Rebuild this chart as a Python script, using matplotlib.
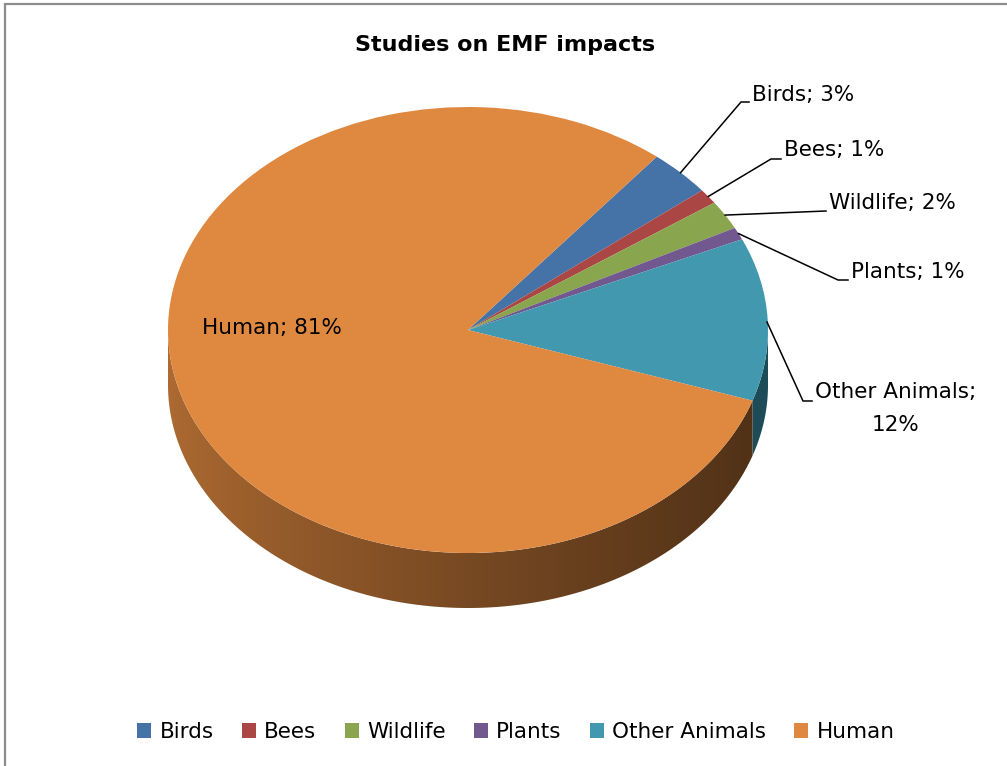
import numpy as np
import matplotlib.pyplot as plt
from matplotlib.patches import Polygon, Rectangle
from matplotlib.colors import to_rgb

plt.rcParams['font.family'] = ['DejaVu Sans']

# data
labels = ['Birds', 'Bees', 'Wildlife', 'Plants', 'Other Animals', 'Human']
shares = [3.4, 1.1, 2.1, 0.9, 11.8, 80.7]
colors = ['#4572A7', '#AA4643', '#89A54E', '#71588F', '#4198AF', '#DE8840']
side_colors = {'Other Animals': '#1d4b58'}

W, H = 1007, 766
CX, CY, RX, RY = 468, 330, 300, 223   # pie centre / radii in pixels
DEPTH = 55 / RY
START = 51

def px(x, y):
    # image pixel -> data coords (pie unit ellipse)
    return (x - CX) / RX, (CY - y) / RY

fig = plt.figure(figsize=(W / 100, H / 100), dpi=100)
ax = fig.add_axes([0, 0, 1, 1])

# top face
wedges, _ = ax.pie(shares, colors=colors, startangle=START, counterclock=False,
                   wedgeprops=dict(linewidth=0.4, edgecolor='none'))
ax.set_aspect('auto')
x0, y1 = px(0, 0)
x1, y0 = px(W, H)
ax.set_xlim(x0, x1)
ax.set_ylim(y0, y1)
ax.axis('off')

# side (extrusion) for the front half
vals = np.array(shares) / sum(shares) * 360
cum = np.concatenate([[0], np.cumsum(vals)])
grad = np.linspace(0, 1, 256)[None, :]
for i, lab in enumerate(labels):
    hi = START - cum[i]
    lo = START - cum[i + 1]
    a, b = max(lo, -180), min(hi, 0)
    if b <= a:
        continue
    t = np.radians(np.linspace(a, b, 200))
    top = np.column_stack([np.cos(t), np.sin(t)])
    bot = np.column_stack([np.cos(t), np.sin(t) - DEPTH])[::-1]
    poly = Polygon(np.vstack([top, bot]), closed=True, facecolor='none', edgecolor='none')
    ax.add_patch(poly)
    base = np.array(to_rgb(side_colors.get(lab, colors[i])))
    if lab in side_colors:
        f = np.ones_like(grad)
    else:
        f = 0.78 - 0.42 * grad ** 0.8
    img = np.clip(f[..., None] * base[None, None, :], 0, 1)
    im = ax.imshow(img, extent=[-1, 1, -1 - DEPTH, 0.05], aspect='auto',
                   interpolation='bilinear', zorder=0.5)
    im.set_clip_path(poly)

# data labels with leader lines
pct = [f'{lab}; {round(v)}%' for lab, v in zip(labels, shares)]
label_pos = {
    'Birds': ((741, 102), (749, 102), (752, 95)),
    'Bees': ((771, 159), (781, 159), (784, 150)),
    'Wildlife': ((826, 211), (826, 211), (829, 203)),
    'Plants': ((838, 280), (848, 280), (851, 272)),
    'Other Animals': ((803, 401), (812, 401), (815, 392)),
}
for i, lab in enumerate(labels):
    mid = np.radians(START - (cum[i] + cum[i + 1]) / 2)
    if lab == 'Human':
        ax.text(*px(272, 328), pct[i], ha='center', va='center', fontsize=15.5)
        continue
    sx, sy = np.cos(mid), np.sin(mid)
    if lab == 'Other Animals':
        sx, sy = px(767, 322)
    (ex, ey), (hx, hy), (tx, ty) = label_pos[lab]
    pts = np.array([(sx, sy), px(ex, ey), px(hx, hy)])
    ax.plot(pts[:, 0], pts[:, 1], color='black', lw=1.1, zorder=3)
    if lab == 'Other Animals':
        ax.text(*px(tx, ty), f'{lab};', ha='left', va='center', fontsize=15.5)
        ax.text(*px(896, 425), f'{round(shares[i])}%', ha='center', va='center', fontsize=15.5)
    else:
        ax.text(*px(tx, ty), pct[i], ha='left', va='center', fontsize=15.5)

# title
ax.text(*px(505, 45), 'Studies on EMF impacts', ha='center', va='center',
        fontsize=16, fontweight='bold')

# legend
leg = fig.legend(wedges, labels, loc='center', bbox_to_anchor=(516 / W, 1 - 732 / H),
                 ncol=6, frameon=False, fontsize=15.5, handlelength=0.65,
                 handleheight=0.65, handletextpad=0.4, columnspacing=1.3)

# chart border (left/top visible)
fig.add_artist(Rectangle((5 / W, -0.1), 1.2, 1.1 - 4 / H, transform=fig.transFigure,
                         facecolor='none', edgecolor='#8c8c8c', lw=1.6))

fig.savefig('out.png', dpi=100)
